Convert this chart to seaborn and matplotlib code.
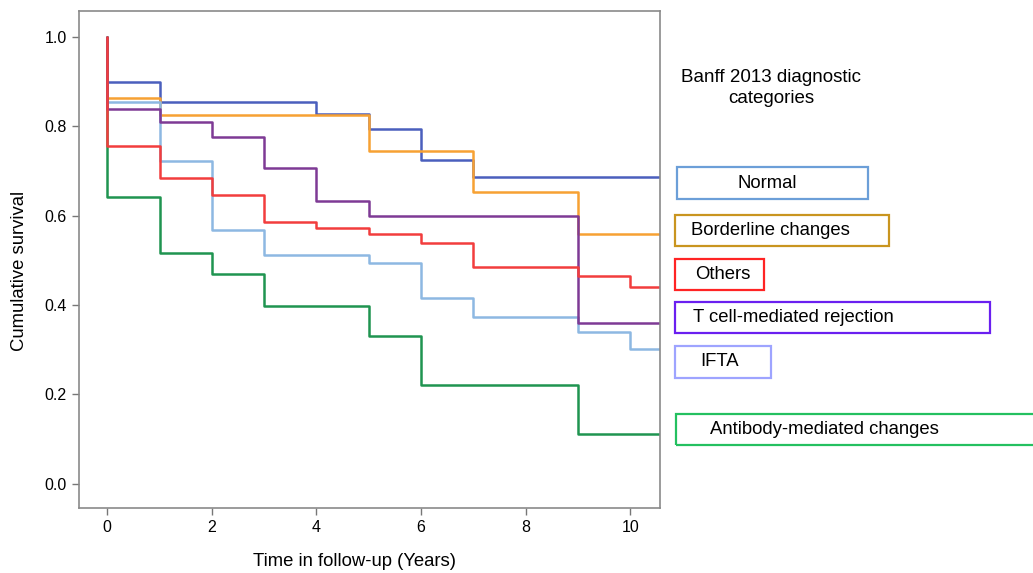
import numpy as np
import pandas as pd
import matplotlib
matplotlib.use("Agg")
import matplotlib.pyplot as plt
import seaborn as sns
from matplotlib.patches import Rectangle

# step curves: survival value holds from each time until the next one
categories = ["Normal", "Borderline changes", "IFTA", "Antibody-mediated changes",
              "T cell-mediated rejection", "Others"]

normal_t = [0, 0, 1, 4, 5, 6, 7, 10.6]
normal_v = [1.0, 0.900, 0.855, 0.827, 0.793, 0.725, 0.686, 0.686]

border_t = [0, 0, 1, 5, 7, 9, 10.6]
border_v = [1.0, 0.863, 0.826, 0.744, 0.652, 0.559, 0.559]

ifta_t = [0, 0, 1, 2, 3, 5, 6, 7, 9, 10, 10.6]
ifta_v = [1.0, 0.855, 0.723, 0.568, 0.512, 0.495, 0.416, 0.373, 0.340, 0.302, 0.302]

abmr_t = [0, 0, 1, 2, 3, 5, 6, 9, 10.6]
abmr_v = [1.0, 0.641, 0.517, 0.469, 0.398, 0.331, 0.221, 0.111, 0.111]

tcmr_t = [0, 0, 1, 2, 3, 4, 5, 9, 10.6]
tcmr_v = [1.0, 0.839, 0.809, 0.776, 0.706, 0.634, 0.600, 0.360, 0.360]

others_t = [0, 0, 1, 2, 3, 4, 5, 6, 7, 9, 10, 10.6]
others_v = [1.0, 0.757, 0.684, 0.647, 0.586, 0.573, 0.558, 0.540, 0.486, 0.465, 0.441, 0.441]

line_colors = {
    "Normal": "#4a5fbd",
    "Borderline changes": "#f7a133",
    "IFTA": "#8db8e2",
    "Antibody-mediated changes": "#1f9450",
    "T cell-mediated rejection": "#7e3a95",
    "Others": "#f23d3d",
}

# legend boxes on the right
box_labels = ["Normal", "Borderline changes", "Others", "T cell-mediated rejection",
              "IFTA", "Antibody-mediated changes"]
box_edges = ["#6c9fd8", "#c9951f", "#ff2424", "#6a1ff0", "#9ea4ff", "#24c060"]

frames = []
for name, t, v in zip(categories,
                      [normal_t, border_t, ifta_t, abmr_t, tcmr_t, others_t],
                      [normal_v, border_v, ifta_v, abmr_v, tcmr_v, others_v]):
    frames.append(pd.DataFrame({"time": t, "surv": v, "cat": name}))
df = pd.concat(frames, ignore_index=True)

sns.set_theme(style="ticks")
plt.rcParams["font.family"] = ["Liberation Sans", "DejaVu Sans"]
plt.rcParams["text.color"] = "black"
plt.rcParams["axes.labelcolor"] = "black"
plt.rcParams["xtick.color"] = "black"
plt.rcParams["ytick.color"] = "black"

W, H = 1033, 573
fig = plt.figure(figsize=(W / 100, H / 100), dpi=100)
ax = fig.add_axes([79 / W, 1 - 508 / H, (660 - 79) / W, (508 - 11) / H])

sns.lineplot(data=df, x="time", y="surv", hue="cat", hue_order=categories,
             palette=line_colors, estimator=None, sort=False,
             drawstyle="steps-post", linewidth=1.8, legend=False, ax=ax)

ax.set_xlim(-0.54, 10.57)
ax.set_ylim(-0.054, 1.058)
ax.set_xticks([0, 2, 4, 6, 8, 10])
ax.set_yticks([0.0, 0.2, 0.4, 0.6, 0.8, 1.0])
ax.set_yticklabels(["0.0", "0.2", "0.4", "0.6", "0.8", "1.0"])
ax.tick_params(labelsize=11.5, length=5, width=1, color="#777777", pad=4,
               labelcolor="black")
for sp in ax.spines.values():
    sp.set_color("#8a8a8a")
    sp.set_linewidth(1.2)
ax.set_xlabel("Time in follow-up (Years)", fontsize=13.3)
ax.set_ylabel("Cumulative survival", fontsize=13.3)
ax.xaxis.set_label_coords(0.475, -0.09)
ax.yaxis.set_label_coords(-0.087, 0.477)

def fx(px):
    return px / W

def fy(py):
    return 1 - py / H

fig.text(fx(771), fy(88), "Banff 2013 diagnostic\ncategories", ha="center", va="center",
         fontsize=13.5, linespacing=1.3)

# box geometry in pixels: x0, x1, y0, y1, text x, text alignment
boxes = [
    (677, 868, 167, 199, 767, "center"),
    (675, 889, 215, 246, 691, "left"),
    (675, 764, 259, 290, 695, "left"),
    (675, 990, 302, 333, 693, "left"),
    (675, 771, 346, 378, 700, "left"),
    (676, 1045, 414, 445, 710, "left"),
]
for (x0, x1, y0, y1, tx, ha), lab, ec in zip(boxes, box_labels, box_edges):
    fig.patches.append(Rectangle((fx(x0), fy(y1)), fx(x1 - x0), (y1 - y0) / H,
                                 transform=fig.transFigure, fill=False,
                                 edgecolor=ec, linewidth=1.6))
    fig.text(fx(tx), fy((y0 + y1) / 2), lab, ha=ha, va="center", fontsize=13.3)

fig.savefig("out.png", dpi=100)
